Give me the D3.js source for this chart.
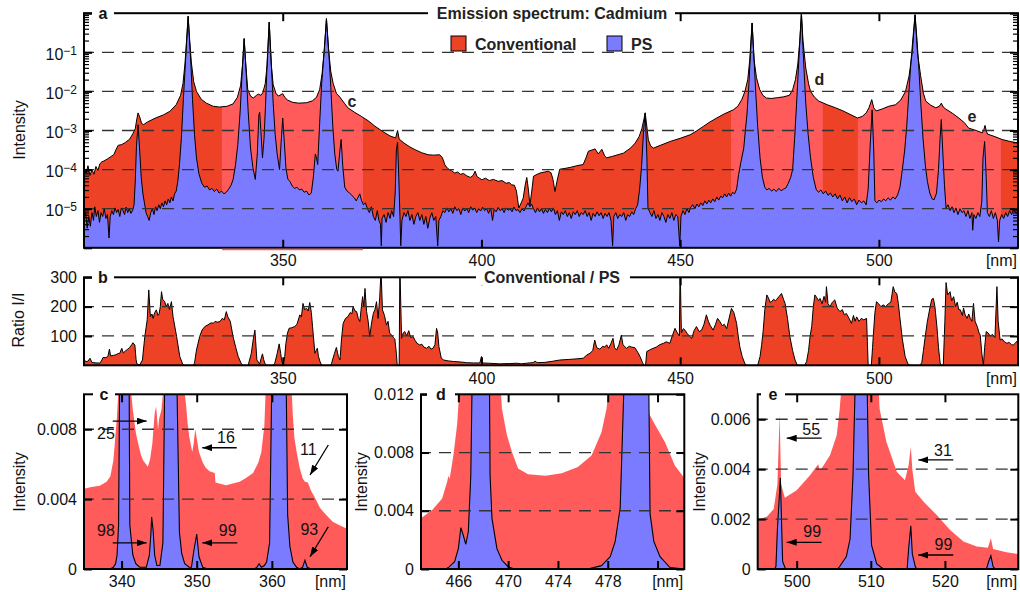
<!DOCTYPE html>
<html><head><meta charset="utf-8">
<script src="https://cdn.jsdelivr.net/npm/d3@7"></script>
<style>
body{margin:0;background:#fff;}
svg{display:block;}
</style></head><body>
<svg id="chart" width="1020" height="592"></svg>
<script>
// ---------------- DATA ----------------
// Panel a: log10(intensity) vs wavelength [nm]
const convSpectrumLog = [[300,-3.95],[300.5,-4.1],[301,-3.9],[301.5,-4.15],[302,-4.0],[302.5,-4.12],[303,-3.92],[303.5,-4.02],[304,-3.85],[304.5,-3.8],[305,-3.78],[306,-3.72],[307,-3.65],[307.5,-3.62],[308,-3.5],[308.6,-3.38],[309.5,-3.36],[310.5,-3.3],[311.5,-3.22],[312.3,-3.08],[312.9,-2.95],[313.3,-2.7],[313.6,-2.55],[314.0,-2.65],[314.5,-2.82],[315,-2.85],[316,-2.78],[318,-2.68],[320,-2.6],[321.6,-2.51],[323.2,-2.34],[324.3,-2.1],[324.9,-1.8],[325.4,-1.3],[325.8,-0.7],[326.2,-0.08],[326.6,-0.7],[327.0,-1.25],[327.6,-1.75],[328.3,-2.0],[329.5,-2.2],[330.8,-2.3],[332.5,-2.38],[334.1,-2.4],[336,-2.38],[337.5,-2.32],[338.6,-2.15],[339.4,-1.85],[339.9,-1.3],[340.3,-0.65],[340.7,-1.3],[341.2,-1.95],[341.9,-2.12],[342.6,-2.17],[343.4,-2.1],[343.9,-2.07],[344.5,-2.1],[345.0,-2.03],[345.6,-1.8],[346.1,-1.3],[346.6,-0.23],[347.1,-1.3],[347.6,-1.83],[348.3,-2.05],[348.9,-2.12],[349.6,-2.08],[350.0,-2.06],[350.5,-2.15],[351.2,-2.22],[352.5,-2.28],[354,-2.3],[356,-2.29],[357.5,-2.24],[358.5,-2.15],[359.3,-1.95],[359.9,-1.55],[360.5,-0.9],[361.0,-0.14],[361.5,-0.9],[362.1,-1.5],[362.7,-1.8],[363.5,-2.05],[364.4,-2.15],[365.5,-2.3],[366.4,-2.42],[368,-2.53],[369.8,-2.64],[371.5,-2.75],[373.2,-2.89],[374.5,-2.98],[375.7,-3.06],[377,-3.14],[378.4,-3.19],[378.9,-3.0],[379.3,-3.22],[380.5,-3.32],[382,-3.42],[383.3,-3.49],[385,-3.57],[386.6,-3.62],[388,-3.63],[389.5,-3.62],[390.2,-3.7],[390.8,-3.88],[391.5,-3.97],[392.5,-4.03],[393.3,-4.09],[394,-4.06],[394.7,-4.12],[395.5,-4.1],[396.3,-4.16],[397.2,-4.2],[397.9,-4.15],[398.4,-4.04],[398.9,-4.18],[399.5,-4.22],[400.1,-4.26],[401,-4.22],[402,-4.28],[403,-4.25],[404.2,-4.3],[405.2,-4.28],[406.2,-4.35],[407,-4.33],[407.6,-4.39],[408.3,-4.4],[408.8,-4.55],[409.4,-4.98],[410.0,-4.85],[410.5,-4.73],[411.0,-4.4],[411.4,-4.2],[411.8,-4.5],[412.2,-4.9],[412.6,-4.6],[413.1,-4.17],[414,-4.12],[415,-4.08],[416,-4.06],[416.8,-4.04],[417.5,-4.08],[418.0,-4.25],[418.5,-4.56],[419.0,-4.3],[419.7,-3.99],[421,-3.97],[422.5,-3.94],[424,-3.9],[425.6,-3.87],[426.3,-3.7],[426.9,-3.53],[427.8,-3.5],[428.6,-3.47],[429.4,-3.6],[430.3,-3.48],[431.0,-3.65],[431.5,-3.7],[433,-3.66],[435.7,-3.58],[437.5,-3.45],[438.7,-3.32],[439.7,-3.15],[440.4,-2.94],[440.9,-2.7],[441.2,-2.55],[441.5,-2.8],[442.0,-3.24],[442.6,-3.4],[443.3,-3.45],[445,-3.38],[447.5,-3.28],[450,-3.2],[452.5,-3.11],[454,-3.02],[455.9,-2.89],[457.5,-2.78],[459.2,-2.68],[461,-2.58],[463.4,-2.47],[464.5,-2.38],[465.5,-2.21],[466.3,-2.0],[467.0,-1.7],[467.5,-1.2],[468.1,-0.25],[468.6,-1.2],[469.2,-1.65],[470.0,-1.95],[470.8,-2.1],[471.7,-2.17],[473,-2.18],[474.5,-2.16],[476,-2.14],[477.5,-2.1],[478.3,-1.96],[479.0,-1.7],[479.6,-1.3],[480.1,-0.7],[480.5,0.0],[480.9,-0.7],[481.6,-1.4],[482.3,-1.8],[482.8,-2.0],[483.8,-2.15],[484.9,-2.25],[487,-2.34],[489.1,-2.42],[491,-2.5],[493,-2.6],[494.6,-2.68],[495.8,-2.64],[496.8,-2.55],[497.5,-2.42],[498.2,-2.21],[498.7,-2.42],[499.3,-2.5],[500.8,-2.45],[502.5,-2.38],[504.2,-2.34],[505.5,-2.22],[506.7,-2.0],[507.6,-1.6],[508.4,-1.0],[509.1,-0.04],[509.7,-1.0],[510.5,-1.6],[511.2,-2.05],[511.8,-2.25],[513,-2.35],[514.3,-2.42],[515.2,-2.38],[515.7,-2.3],[516.2,-2.4],[516.8,-2.45],[518.5,-2.56],[520.1,-2.68],[521.5,-2.8],[522.6,-2.94],[524.5,-3.0],[526.0,-3.06],[526.4,-2.98],[526.7,-2.87],[527.0,-3.0],[527.3,-3.09],[529,-3.15],[531,-3.23],[533,-3.28],[535,-3.32]];

const psSpectrumLog = [[300,-5.3],[300.4,-5.1],[300.8,-5.5],[301.2,-5.2],[301.6,-5.45],[302,-5.1],[302.4,-5.3],[302.7,-4.95],[303.1,-5.2],[303.5,-5.05],[303.9,-5.35],[304.3,-5.1],[304.7,-5.2],[305.1,-5.0],[305.5,-5.25],[305.9,-5.15],[306.3,-5.75],[306.6,-5.2],[307,-5.05],[307.4,-5.15],[307.8,-4.98],[308.2,-5.1],[308.6,-5.02],[309,-5.2],[309.4,-4.98],[309.8,-5.05],[310.2,-5.15],[310.6,-4.96],[311,-5.1],[311.4,-5.0],[311.8,-5.12],[312.2,-5.05],[312.6,-4.9],[312.9,-4.3],[313.2,-3.4],[313.6,-2.85],[314.0,-3.5],[314.4,-4.2],[314.8,-4.6],[315.2,-4.85],[315.6,-5.1],[316.0,-5.2],[316.4,-5.3],[316.8,-5.1],[317.2,-5.0],[317.6,-5.15],[318.0,-4.95],[318.4,-5.05],[318.8,-4.9],[319.2,-5.0],[319.6,-4.85],[320.0,-4.95],[320.4,-4.8],[320.8,-4.9],[321.2,-4.75],[321.6,-4.85],[322.0,-4.7],[322.4,-4.8],[322.8,-4.62],[323.2,-4.55],[323.6,-4.3],[324.0,-3.9],[324.5,-3.2],[325.0,-2.2],[325.5,-1.3],[325.9,-0.6],[326.2,-0.08],[326.5,-0.6],[326.9,-1.3],[327.3,-2.2],[327.8,-3.1],[328.3,-3.7],[328.9,-4.1],[329.6,-4.34],[330.3,-4.45],[331,-4.42],[331.6,-4.52],[332.2,-4.48],[332.8,-4.56],[333.4,-4.5],[334,-4.6],[334.6,-4.55],[335.2,-4.62],[335.8,-4.58],[336.4,-4.5],[337,-4.4],[337.5,-4.26],[338.1,-3.9],[338.7,-3.36],[339.3,-2.5],[339.8,-1.5],[340.3,-0.65],[340.8,-1.5],[341.3,-2.5],[341.9,-3.45],[342.5,-3.95],[343.1,-4.25],[343.6,-3.6],[344.0,-2.6],[344.2,-2.53],[344.5,-3.0],[344.9,-3.7],[345.3,-3.2],[345.7,-2.3],[346.1,-1.2],[346.6,-0.23],[347.1,-1.2],[347.6,-2.3],[348.1,-3.1],[348.6,-3.6],[349.2,-4.0],[349.6,-3.3],[350.0,-2.68],[350.4,-3.3],[350.8,-3.95],[351.3,-4.25],[351.8,-4.3],[352.4,-4.42],[353,-4.48],[353.6,-4.45],[354.2,-4.52],[354.8,-4.5],[355.4,-4.58],[356,-4.55],[356.6,-4.65],[357.2,-4.6],[357.7,-4.2],[358.2,-3.6],[358.5,-3.7],[358.8,-3.87],[359.3,-2.8],[359.8,-1.8],[360.4,-1.0],[361.0,-0.14],[361.6,-1.0],[362.1,-1.9],[362.6,-2.9],[363.1,-3.6],[363.6,-4.0],[363.9,-4.04],[364.3,-3.6],[364.7,-3.23],[365.1,-3.9],[365.6,-4.45],[366.2,-4.55],[366.8,-4.6],[367.4,-4.66],[368,-4.72],[368.5,-4.8],[369,-4.7],[369.4,-4.62],[369.8,-4.78],[370.3,-4.9],[370.8,-4.85],[371.3,-5.0],[371.8,-5.1],[372.3,-4.95],[372.8,-5.2],[373.3,-5.3],[373.8,-5.05],[374.2,-5.3],[374.6,-5.4],[374.8,-5.95],[375.0,-5.25],[375.5,-5.15],[376,-5.35],[376.5,-5.1],[377,-5.25],[377.4,-5.05],[377.9,-5.2],[378.3,-4.6],[378.6,-3.5],[378.9,-3.3],[379.2,-4.2],[379.5,-5.2],[379.7,-5.95],[380,-5.3],[380.5,-5.1],[381,-5.2],[381.5,-5.05],[382,-5.3],[382.5,-5.15],[383,-5.4],[383.5,-5.2],[384,-5.1],[384.5,-5.3],[385,-5.15],[385.5,-5.4],[386,-5.2],[386.5,-5.5],[387,-5.25],[387.5,-5.1],[388,-5.3],[388.5,-5.2],[389,-5.95],[389.3,-5.3],[389.8,-5.2],[390.3,-5.05],[390.8,-5.1],[391.3,-4.98],[391.8,-5.08],[392.3,-5.0],[392.8,-5.12],[393.3,-4.95],[393.8,-5.05],[394.3,-5.0],[394.8,-5.15],[395.3,-4.98],[395.8,-5.06],[396.3,-5.0],[396.8,-5.1],[397.3,-4.95],[397.8,-5.04],[398.3,-4.98],[398.8,-5.1],[399.3,-5.0],[399.8,-5.06],[400.3,-4.96],[400.8,-5.05],[401.3,-5.0],[401.8,-5.12],[402.3,-4.98],[402.8,-5.3],[403.2,-5.02],[403.7,-5.08],[404.2,-4.97],[404.7,-5.05],[405.2,-5.0],[405.7,-5.1],[406.2,-4.98],[406.7,-5.04],[407.2,-5.0],[407.7,-5.08],[408.2,-4.96],[408.7,-5.05],[409.2,-5.02],[409.7,-5.1],[410.2,-5.0],[410.7,-5.06],[411.2,-4.95],[411.7,-4.85],[412.2,-4.95],[412.6,-4.88],[413.1,-5.0],[413.6,-5.1],[414.1,-4.98],[414.6,-5.08],[415.1,-5.0],[415.6,-5.12],[416.1,-5.02],[416.6,-5.1],[417.1,-5.0],[417.6,-5.08],[418.1,-4.98],[418.6,-5.15],[419.1,-5.05],[419.6,-5.3],[420.1,-5.08],[420.6,-5.15],[421.1,-5.05],[421.6,-5.2],[422.1,-5.1],[422.6,-5.25],[423.1,-5.08],[423.6,-5.15],[424.1,-5.05],[424.6,-5.2],[425.1,-5.1],[425.6,-5.15],[426.1,-5.05],[426.6,-5.2],[427.1,-5.1],[427.6,-5.3],[428.1,-5.12],[428.6,-5.2],[429.1,-5.08],[429.6,-5.18],[430.1,-5.1],[430.6,-5.25],[431.1,-5.12],[431.6,-5.2],[432.1,-5.1],[432.6,-5.3],[433.0,-5.95],[433.3,-5.2],[433.8,-5.1],[434.3,-5.25],[434.8,-5.15],[435.3,-5.2],[435.8,-5.1],[436.3,-5.3],[436.8,-5.15],[437.3,-5.2],[437.8,-5.08],[438.3,-5.15],[438.8,-5.0],[439.3,-4.9],[439.8,-4.5],[440.3,-3.9],[440.8,-3.0],[441.2,-2.55],[441.6,-3.6],[441.9,-4.98],[442.4,-5.1],[442.9,-5.2],[443.4,-5.05],[443.9,-5.25],[444.4,-5.15],[444.9,-5.3],[445.4,-5.1],[445.9,-5.2],[446.4,-5.35],[446.9,-5.15],[447.4,-5.25],[447.9,-5.1],[448.4,-5.3],[448.9,-5.15],[449.4,-5.2],[449.9,-5.95],[450.2,-5.2],[450.7,-5.05],[451.2,-5.15],[451.7,-5.0],[452.2,-5.1],[452.7,-4.95],[453.2,-4.9],[453.7,-5.0],[454.2,-4.88],[454.7,-4.95],[455.2,-4.85],[455.7,-4.92],[456.2,-4.8],[456.7,-4.88],[457.2,-4.78],[457.7,-4.85],[458.2,-4.75],[458.7,-4.82],[459.2,-4.7],[459.7,-4.78],[460.2,-4.68],[460.7,-4.72],[461.2,-4.62],[461.7,-4.7],[462.2,-4.6],[462.7,-4.68],[463.2,-4.58],[463.7,-4.62],[464.2,-4.5],[464.7,-4.13],[465.3,-3.8],[466.0,-3.45],[466.4,-3.0],[466.8,-2.6],[467.3,-1.8],[467.7,-1.0],[468.1,-0.25],[468.5,-1.0],[469.0,-2.0],[469.5,-2.9],[470.1,-3.7],[470.7,-4.2],[471.3,-4.45],[471.8,-4.52],[472.4,-4.48],[473,-4.55],[473.6,-4.5],[474.2,-4.56],[474.8,-4.48],[475.4,-4.54],[476,-4.5],[476.6,-4.47],[477.2,-4.35],[477.8,-4.2],[478.3,-4.0],[478.8,-3.2],[479.3,-2.3],[479.8,-1.3],[480.5,0.0],[481.1,-1.3],[481.6,-2.3],[482.2,-3.1],[482.8,-3.7],[483.5,-4.2],[484.2,-4.5],[484.8,-4.58],[485.4,-4.52],[486,-4.62],[486.6,-4.55],[487.2,-4.66],[487.8,-4.6],[488.4,-4.7],[489,-4.62],[489.6,-4.75],[490.2,-4.65],[490.8,-4.8],[491.4,-4.7],[492,-4.85],[492.6,-4.72],[493.2,-4.82],[493.8,-4.75],[494.4,-4.9],[495,-4.78],[495.6,-4.85],[496.2,-4.8],[496.8,-4.9],[497.3,-4.5],[497.8,-3.4],[498.3,-2.47],[498.7,-3.5],[499.0,-4.8],[499.5,-4.85],[500,-4.78],[500.6,-4.82],[501.2,-4.75],[501.7,-4.8],[502.3,-4.72],[502.9,-4.78],[503.5,-4.7],[504.1,-4.75],[504.7,-4.65],[505.3,-4.45],[505.9,-4.0],[506.5,-3.5],[507.0,-2.9],[507.5,-2.1],[508.1,-1.2],[508.6,-0.6],[509.1,-0.04],[509.6,-0.7],[510.1,-1.5],[510.6,-2.4],[511.1,-3.2],[511.7,-3.9],[512.2,-4.3],[512.8,-4.6],[513.4,-4.75],[513.9,-4.77],[514.5,-4.6],[515.0,-4.0],[515.4,-3.2],[515.7,-2.72],[516.1,-3.6],[516.5,-4.4],[516.9,-4.98],[517.4,-4.9],[517.9,-5.05],[518.4,-4.95],[518.9,-5.1],[519.4,-4.98],[519.9,-5.15],[520.4,-5.0],[520.9,-5.1],[521.4,-5.05],[521.9,-5.2],[522.4,-5.05],[522.9,-5.25],[523.4,-5.1],[523.6,-5.55],[523.9,-5.15],[524.4,-5.25],[524.9,-5.1],[525.4,-5.2],[525.9,-4.8],[526.2,-3.7],[526.6,-3.28],[527.0,-4.2],[527.3,-5.1],[527.8,-5.2],[528.3,-5.05],[528.8,-5.25],[529.3,-5.1],[529.8,-5.3],[530.1,-5.85],[530.4,-5.3],[530.9,-5.15],[531.4,-5.25],[531.9,-5.1],[532.4,-5.2],[532.9,-5.05],[533.4,-5.15],[533.9,-5.0],[534.4,-5.1],[535,-5.15]];

// Panel b: ratio Conventional / PS
const ratioSpectrum = [[300,20],[300.5,12],[301,14],[301.5,24],[302,10],[302.5,9],[303,8],[303.5,8],[304,7],[304.5,18],[304.8,27],[305.5,26],[306,30],[306.4,55],[306.7,32],[307.5,34],[308,36],[308.6,40],[309,41],[309.5,58],[309.9,42],[310.5,50],[311,55],[311.5,61],[312,70],[312.3,77],[312.8,69],[313.1,20],[313.3,5],[314,1],[314.7,18],[315.3,98],[315.9,155],[316.3,257],[316.7,166],[317.1,175],[317.4,160],[317.8,180],[318.2,189],[318.6,170],[318.9,175],[319.2,200],[319.5,251],[319.8,225],[320.3,217],[320.7,200],[321.1,211],[321.5,190],[322,217],[322.4,166],[323.3,98],[324.1,30],[324.8,5],[325.2,0],[327.4,0],[327.8,7],[328.3,52],[329.1,98],[329.7,120],[330.4,132],[331.2,138],[332,145],[332.5,143],[333,150],[333.5,147],[334.2,149],[334.8,160],[335.3,155],[335.8,183],[336.2,165],[336.8,150],[337.5,98],[338.2,60],[338.8,30],[339.6,5],[340,0],[341.3,0],[342.1,41],[342.6,90],[343.0,120],[343.3,60],[343.5,18],[344.2,5],[344.6,25],[344.9,39],[345.2,20],[345.5,7],[346,0],[347.6,0],[348,7],[348.6,40],[349.1,73],[349.5,40],[349.7,18],[350.1,0],[350.5,30],[350.8,75],[351.2,110],[351.6,126],[352.2,128],[353,132],[353.6,140],[354.3,172],[354.7,165],[355.1,211],[355.5,190],[356,194],[356.4,185],[356.8,214],[357.2,180],[357.5,132],[358.1,41],[358.4,50],[358.7,58],[359.0,30],[359.4,12],[359.8,0],[362,0],[362.3,7],[363,40],[363.5,61],[364,30],[364.4,18],[364.8,90],[365.2,143],[365.8,160],[366.4,166],[367.0,180],[367.4,175],[367.7,200],[368.2,185],[368.6,183],[369.0,160],[369.4,149],[369.8,200],[370.1,234],[370.4,200],[370.7,262],[371.1,183],[371.5,150],[371.9,98],[372.3,140],[372.8,177],[373.2,190],[373.6,217],[374.0,160],[374.4,230],[374.65,300],[374.8,300],[375.1,189],[375.6,170],[376.1,137],[376.5,150],[376.9,110],[377.4,103],[377.8,95],[378.2,90],[378.6,40],[378.8,0],[379.3,0],[379.45,300],[379.55,300],[379.9,92],[380.3,110],[380.7,115],[381.2,100],[381.7,118],[382.2,95],[382.8,98],[383.3,85],[383.8,75],[384.5,69],[385,72],[385.5,62],[386.2,58],[386.8,65],[387.3,55],[387.8,58],[388.3,70],[388.7,126],[389.0,110],[389.3,64],[389.9,24],[390.5,18],[391.6,15],[393,13],[395,11],[396.2,9],[398,8],[399.6,8],[400,30],[400.3,8],[402,7],[404.6,5],[407,6],[409,7],[410,5],[412,8],[413,9],[413.5,14],[414,9],[416,10],[418,14],[419.7,18],[422,20],[424,22],[425.6,24],[426.5,35],[427.3,41],[428,50],[428.5,86],[429,60],[429.8,55],[430.5,65],[431,62],[431.5,70],[432,58],[432.6,75],[433.1,92],[433.5,60],[434,52],[434.6,70],[435.2,103],[435.6,70],[436.5,58],[437.2,65],[437.8,62],[438.6,60],[439.3,45],[439.9,30],[440.5,10],[440.9,0],[441.3,0],[441.6,47],[442.3,52],[443.2,58],[444,62],[444.8,70],[445.8,75],[446.5,80],[447.4,75],[448.0,100],[448.7,126],[449.3,110],[449.8,100],[449.95,300],[450.05,300],[450.3,110],[450.8,125],[451.2,120],[451.8,108],[452.3,100],[452.9,92],[453.5,118],[454.1,132],[454.8,115],[455.4,120],[456.0,140],[456.6,172],[457.1,150],[457.6,135],[458.3,120],[458.9,140],[459.4,160],[460.0,149],[460.6,135],[461.1,140],[461.7,125],[462.3,160],[462.9,194],[463.5,180],[464.2,143],[464.6,100],[465.0,64],[465.6,30],[466.3,5],[466.8,0],[469.5,0],[470.1,30],[470.5,70],[470.9,120],[471.3,190],[471.8,240],[472.2,230],[472.6,215],[473.0,217],[473.5,225],[474.0,220],[474.3,225],[474.9,235],[475.5,245],[476.0,225],[476.4,211],[477.0,160],[477.6,98],[478.3,50],[478.9,18],[479.5,0],[481.3,0],[481.8,12],[482.3,50],[482.7,100],[483.1,132],[483.5,200],[483.9,240],[484.4,230],[484.8,220],[485.2,228],[485.7,210],[486.2,235],[486.6,215],[486.8,268],[487.2,210],[487.7,200],[488.3,215],[488.9,223],[489.5,195],[490.2,183],[490.8,190],[491.3,172],[491.8,177],[492.5,160],[493.1,143],[493.6,170],[494.0,150],[494.4,165],[495.0,150],[495.6,160],[496.2,155],[496.9,160],[497.1,80],[497.3,0],[498.1,0],[498.4,60],[498.6,103],[499.0,180],[499.4,217],[499.9,210],[500.5,200],[501.1,206],[501.7,200],[502.4,210],[503.0,215],[503.6,268],[504.0,250],[504.5,245],[504.9,210],[505.3,160],[505.9,90],[506.6,30],[507.3,5],[507.8,0],[510.4,0],[510.8,10],[511.2,50],[511.6,92],[512.2,150],[512.9,200],[513.3,225],[513.7,228],[514.1,200],[514.6,132],[515.0,60],[515.4,10],[515.6,0],[516.2,0],[516.6,150],[516.9,282],[517.3,240],[517.9,251],[518.3,220],[518.8,234],[519.3,200],[519.7,215],[520.1,190],[520.5,189],[521.0,170],[521.3,195],[521.7,172],[522.2,160],[522.6,175],[523.0,160],[523.4,150],[523.8,211],[524.2,150],[524.8,130],[525.2,110],[525.5,103],[525.9,40],[526.3,0],[526.6,60],[527.0,115],[527.5,110],[528.0,100],[528.6,105],[529.2,95],[529.7,268],[530.0,150],[530.5,86],[531.0,90],[531.6,80],[532.2,75],[532.8,78],[533.4,70],[533.8,69],[534.3,75],[535,86]];

// Panels c, d, e: linear intensity
const convZoomC = [[335,0.0046],[336,0.0047],[337.1,0.00476],[338,0.0050],[338.5,0.0053],[338.9,0.0062],[339.1,0.0072],[339.4,0.0088],[339.6,0.0105],[340.4,0.22],[341.2,0.0105],[341.5,0.0091],[341.9,0.0078],[342.2,0.0072],[342.6,0.0065],[342.9,0.0062],[343.5,0.00585],[343.8,0.0063],[344.1,0.0072],[344.4,0.0089],[344.6,0.0093],[344.75,0.0085],[344.85,0.0080],[345.0,0.0086],[345.3,0.0091],[345.6,0.0105],[346.6,0.59],[348.3,0.0105],[348.6,0.0093],[348.8,0.0083],[349.0,0.0076],[349.4,0.0067],[349.6,0.0072],[349.8,0.0080],[350.0,0.0075],[350.3,0.0067],[350.8,0.0061],[351.2,0.0058],[351.7,0.0056],[352.4,0.0055],[352.5,0.00495],[353.0,0.0049],[353.9,0.0048],[354.8,0.0049],[355.7,0.0050],[356.5,0.0052],[357.5,0.0055],[358.2,0.0061],[358.6,0.0067],[359.0,0.0082],[359.2,0.0105],[361.0,0.72],[362.6,0.0105],[362.8,0.0087],[363.0,0.0075],[363.3,0.0067],[363.7,0.0058],[364.1,0.0052],[364.4,0.0050],[364.8,0.00495],[365.2,0.0045],[365.7,0.0041],[366.4,0.0035],[367.2,0.0031],[368.1,0.0027],[369,0.0025],[370,0.0023]];
const psZoomC = [[335,0],[338.5,0],[338.9,0.0001],[339.2,0.0003],[339.4,0.0008],[339.6,0.0025],[339.75,0.011],[340.4,0.22],[341.0,0.011],[341.1,0.0025],[341.5,0.0008],[341.9,0.0003],[342.4,0.0001],[343.3,0.0001],[343.7,0.0008],[343.9,0.0020],[344.0,0.00297],[344.2,0.0022],[344.4,0.0008],[344.7,0.0002],[345.1,0.0002],[345.5,0.0015],[345.75,0.011],[346.6,0.59],[347.35,0.011],[347.7,0.0021],[348.0,0.0009],[348.4,0.0003],[349.0,0.0001],[349.3,0.0001],[349.6,0.0010],[350.0,0.0020],[350.3,0.0007],[350.8,0.0001],[351.5,0],[357.7,0],[358.0,0.0001],[358.3,0.0003],[358.6,0.0001],[359.0,0.0002],[359.3,0.0004],[359.7,0.0015],[360.0,0.011],[361.0,0.72],[361.9,0.011],[362.1,0.0031],[362.4,0.0013],[362.8,0.0004],[363.3,0.0001],[363.7,0],[364.1,0.0001],[364.4,0.0005],[364.7,0.0001],[365.2,0],[370,0]];
const convZoomD = [[463,0.00348],[463.9,0.00405],[464.7,0.00485],[465.1,0.0060],[465.2,0.0064],[465.3,0.0062],[465.6,0.0078],[465.9,0.0099],[466.1,0.0125],[468.1,0.56],[469.4,0.0125],[469.5,0.0110],[469.9,0.0092],[470.3,0.00805],[470.8,0.0069],[471.6,0.0065],[473.0,0.0064],[474.3,0.00657],[475.6,0.0070],[476.7,0.0078],[477.5,0.0094],[477.9,0.0110],[478.1,0.0125],[480.5,1.0],[480.9,0.0125],[481.1,0.0110],[481.8,0.0099],[482.6,0.0087],[483.4,0.0071],[484.2,0.0062]];
const psZoomD = [[463,0],[465.0,0],[465.2,0.0001],[465.7,0.0005],[466.0,0.0014],[466.2,0.00284],[466.4,0.0023],[466.6,0.0017],[466.8,0.00256],[467.0,0.0064],[467.1,0.0125],[468.1,0.56],[468.5,0.0125],[468.55,0.0064],[468.7,0.00348],[469.1,0.0014],[469.5,0.0006],[470.0,0.00016],[470.5,0],[476.4,0],[477.5,0.00023],[478.2,0.00085],[478.6,0.0019],[479.0,0.0042],[479.3,0.0125],[480.5,1.0],[481.3,0.0125],[481.4,0.0038],[481.7,0.0019],[482.2,0.00085],[483.0,0.0001],[484.2,0]];
const convZoomE = [[494.7,0.00196],[496.0,0.0021],[496.9,0.0024],[497.4,0.0034],[497.7,0.0062],[497.9,0.0034],[498.4,0.00285],[500.0,0.00316],[501.8,0.00376],[502.9,0.0042],[503.1,0.0040],[503.4,0.00405],[504.5,0.00456],[505.4,0.00536],[505.8,0.0064],[506.1,0.0075],[509.1,0.91],[511.0,0.0075],[511.2,0.0064],[512.1,0.0051],[513.5,0.0039],[514.6,0.00356],[515.1,0.00416],[515.4,0.0049],[515.6,0.0040],[516.0,0.0031],[517.1,0.0027],[518.9,0.00216],[520.7,0.00156],[522.5,0.0011],[524.3,0.0009],[525.8,0.00085],[526.2,0.00123],[526.5,0.0008],[528.3,0.00067],[529.9,0.0006]];
const psZoomE = [[494.7,0],[497.0,0],[497.2,0.0001],[497.4,0.0016],[497.8,0.00365],[498.1,0.0003],[498.5,0],[505.5,0],[505.8,0.0001],[506.7,0.0005],[507.2,0.0012],[507.6,0.00376],[507.9,0.0075],[509.1,0.91],[509.5,0.0075],[509.7,0.0038],[510.1,0.00096],[510.8,0.0002],[511.7,0],[514.9,0],[515.1,0.0008],[515.4,0.00173],[515.6,0.0006],[516.0,0.0001],[516.2,0],[525.6,0],[525.9,0.0003],[526.2,0.00053],[526.5,0.0001],[526.8,0],[529.9,0]];

// zoomed regions highlighted in panel a [nm]
const highlightRanges = [[334.7,370.2],[462.8,485.9],[494.7,530.7]];
const regionLabels = [["c",367.4,0.005],["d",485.0,0.0186],["e",523.4,0.00214]];

// tick values
const wlTicksAB = [350,400,450,500];
const intensityTicksA = [1e-1,1e-2,1e-3,1e-4,1e-5];
const ratioTicks = [100,200,300];
const wlTicksC = [340,350,360], wlTicksD = [466,470,474,478,482], wlLabelsD=[466,470,474,478], wlTicksE = [500,510,520];
const intTicksC = [0,0.004,0.008], intTicksD = [0,0.004,0.008,0.012], intTicksE = [0,0.002,0.004,0.006];

// annotations: label, tail [nm,I], tip [nm,I], text centre [nm,I]
const annotC = [["25",[338.82,0.00847],[343.34,0.00847],[337.93,0.00778]],["16",[355.32,0.00694],[350.74,0.00694],[353.90,0.00752]],["11",[367.51,0.0071],[365.08,0.00538],[364.85,0.00687]],["98",[338.82,0.0015],[343.34,0.0015],[337.93,0.0022]],["99",[355.40,0.0015],[350.74,0.0015],[354.12,0.0022]],["93",[367.51,0.00242],[365.08,0.0007],[364.98,0.00229]]];
const annotE = [["55",[503.37,0.00524],[498.65,0.00524],[501.95,0.00561]],["31",[521.13,0.00437],[516.41,0.00437],[519.74,0.00476]],["99",[503.37,0.00107],[498.65,0.00107],[502.1,0.0015]],["99",[521.13,0.00056],[516.41,0.00056],[519.8,0.00098]]];

// ---------------- DRAWING ----------------
const FONT = '"Liberation Sans", Arial, Helvetica, sans-serif';
const C_DARK = "#EE4226", C_LIGHT = "#FF5B5B", C_BLUE = "#7B7BFF";
const svg = d3.select("#chart").attr("font-family", FONT);
const defs = svg.append("defs");
defs.append("marker").attr("id","arr").attr("viewBox","0 0 10 7").attr("refX",10).attr("refY",3.5)
  .attr("markerWidth",10).attr("markerHeight",7).attr("markerUnits","userSpaceOnUse").attr("orient","auto")
  .append("path").attr("d","M0,0L10,3.5L0,7Z").attr("fill","#000");

const FA = {x0:84, x1:1018, y0:13.2, y1:247.8};
const FB = {x0:84, x1:1018, y0:277.3, y1:365.3};
const FC = {x0:84, x1:347, y0:394.3, y1:569};
const FD = {x0:421, x1:684.3, y0:394.3, y1:569};
const FE = {x0:757.7, x1:1018.3, y0:394.3, y1:569};

const xA = d3.scaleLinear().domain([300,535]).range([FA.x0,FA.x1]);
const yA = d3.scaleLog().domain([1e-6,1]).range([FA.y1,FA.y0]);
const yB = d3.scaleLinear().domain([0,300]).range([FB.y1,FB.y0]);
const xC = d3.scaleLinear().domain([335,370]).range([FC.x0,FC.x1]);
const yC = d3.scaleLinear().domain([0,0.01]).range([FC.y1,FC.y0]);
const xD = d3.scaleLinear().domain([463,484.15]).range([FD.x0,FD.x1]);
const yD = d3.scaleLinear().domain([0,0.012]).range([FD.y1,FD.y0]);
const xE = d3.scaleLinear().domain([494.74,529.9]).range([FE.x0,FE.x1]);
const yE = d3.scaleLinear().domain([0,0.007]).range([FE.y1,FE.y0]);

function clipFor(id,f){
  defs.append("clipPath").attr("id",id).append("rect").attr("x",f.x0).attr("y",f.y0).attr("width",f.x1-f.x0).attr("height",f.y1-f.y0);
  return `url(#${id})`;
}
function grid(g,y,vals,f){
  g.append("g").selectAll("line").data(vals).join("line")
   .attr("x1",f.x0).attr("x2",f.x1).attr("y1",d=>y(d)).attr("y2",d=>y(d))
   .attr("stroke","#333").attr("stroke-width",1.3).attr("stroke-dasharray","12,8").attr("stroke-dashoffset",2);
}
function tickMarks(g,x,y,f,xt,yt,ytMinor){
  const mk=(axis,tx,ty,vals,size,sw)=>{
    const a=g.append("g").attr("transform",`translate(${tx},${ty})`)
      .call(axis.tickValues(vals).tickSize(size).tickSizeOuter(0).tickFormat(""));
    a.select(".domain").remove();
    a.selectAll("line").attr("stroke","#000").attr("stroke-width",sw);
  };
  mk(d3.axisBottom(x),0,f.y1,xt,-8,2);
  mk(d3.axisTop(x),0,f.y0,xt,-8,2);
  mk(d3.axisLeft(y),f.x0,0,yt,-8,2);
  mk(d3.axisRight(y),f.x1,0,yt,-8,2);
  if(ytMinor){ mk(d3.axisLeft(y),f.x0,0,ytMinor,-5,1.2); mk(d3.axisRight(y),f.x1,0,ytMinor,-5,1.2); }
  g.append("rect").attr("x",f.x0).attr("y",f.y0).attr("width",f.x1-f.x0).attr("height",f.y1-f.y0)
   .attr("fill","none").attr("stroke","#000").attr("stroke-width",2);
}
function xLabels(g,x,f,vals){
  const a=g.append("g").attr("transform",`translate(0,${f.y1})`)
    .call(d3.axisBottom(x).tickValues(vals).tickSize(0).tickPadding(7));
  a.select(".domain").remove();
  a.attr("font-size",16).attr("font-family",FONT);
  a.selectAll("text").attr("fill","#111");
  g.append("text").attr("x",f.x1-1).attr("y",f.y1+18.4).attr("text-anchor","end")
   .attr("font-size",16).attr("fill","#111").text("[nm]");
}
function yLabels(g,y,f,vals,fmt){
  const a=g.append("g").attr("transform",`translate(${f.x0},0)`)
    .call(d3.axisLeft(y).tickValues(vals).tickSize(0).tickPadding(7).tickFormat(fmt));
  a.select(".domain").remove();
  a.attr("font-size",16).attr("font-family",FONT);
  a.selectAll("text").attr("fill","#111");
  return a;
}
function panelLabel(g,f,txt,x0,x1){
  g.append("rect").attr("x",x0).attr("y",f.y0-7).attr("width",x1-x0).attr("height",14).attr("fill","#fff");
  g.append("text").attr("x",(x0+x1)/2).attr("y",f.y0+5.5).attr("text-anchor","middle")
   .attr("font-size",16).attr("font-weight","bold").attr("fill","#111").text(txt);
}
function axisTitle(g,x,y,txt){
  g.append("text").attr("transform",`translate(${x},${y}) rotate(-90)`).attr("text-anchor","middle")
   .attr("font-size",16).attr("fill","#111").text(txt);
}

// ---------- Panel a ----------
const gA = svg.append("g");
const clipA = clipFor("clipA",FA);
const areaA = d3.area().x(d=>xA(d[0])).y0(FA.y1).y1(d=>yA(10**d[1]));
const lineA = d3.line().x(d=>xA(d[0])).y(d=>yA(10**d[1]));
const pA = gA.append("g").attr("clip-path",clipA);
pA.append("path").datum(convSpectrumLog).attr("d",areaA).attr("fill",C_DARK);
highlightRanges.forEach((r,i)=>{
  defs.append("clipPath").attr("id","hl"+i).append("rect")
    .attr("x",xA(r[0])).attr("y",FA.y0).attr("width",xA(r[1])-xA(r[0])).attr("height",FA.y1-FA.y0);
  pA.append("path").datum(convSpectrumLog).attr("d",areaA).attr("fill",C_LIGHT).attr("clip-path",`url(#hl${i})`);
});
pA.append("path").datum(psSpectrumLog).attr("d",areaA).attr("fill",C_BLUE);
pA.append("path").datum(convSpectrumLog).attr("d",lineA).attr("fill","none").attr("stroke","#000").attr("stroke-width",1);
pA.append("path").datum(psSpectrumLog).attr("d",lineA).attr("fill","none").attr("stroke","#000").attr("stroke-width",1);
grid(gA,yA,intensityTicksA,FA);
const minorA=[]; for(let e=-6;e<0;e++){ for(let k=2;k<10;k++) minorA.push(k*10**e); }
tickMarks(gA,xA,yA,FA,wlTicksAB,[1e-6,1e-5,1e-4,1e-3,1e-2,1e-1,1],minorA);
gA.append("line").attr("x1",xA(highlightRanges[0][0])).attr("x2",xA(highlightRanges[0][1])).attr("y1",FA.y1+1.8).attr("y2",FA.y1+1.8).attr("stroke",C_LIGHT).attr("stroke-width",1.5);
xLabels(gA,xA,FA,wlTicksAB);
const yla = yLabels(gA,yA,FA,intensityTicksA,d=>d);
yla.selectAll("text").each(function(d){
  const t=d3.select(this); const e=Math.round(Math.log10(d));
  t.text(null).attr("dy",null).attr("y",7);
  t.append("tspan").text("10");
  t.append("tspan").attr("dy",-5).attr("font-size",12).text("\u2212"+(-e));
});
axisTitle(gA,25,130,"Intensity");
panelLabel(gA,FA,"a",92,114);
gA.append("rect").attr("x",428).attr("y",FA.y0-8).attr("width",247).attr("height",16).attr("fill","#fff");
gA.append("text").attr("x",552).attr("y",18.5).attr("text-anchor","middle").attr("font-size",16).attr("font-weight","bold").attr("fill","#222").text("Emission spectrum: Cadmium");
// legend
const legend=[["Conventional",C_DARK,451],["PS",C_BLUE,607]];
legend.forEach(([name,col,lx])=>{
  gA.append("rect").attr("x",lx).attr("y",36).attr("width",15).attr("height",15).attr("fill",col).attr("stroke","#000").attr("stroke-width",1);
  gA.append("text").attr("x",lx+24).attr("y",50).attr("font-size",16).attr("font-weight","bold").attr("fill","#222").text(name);
});
regionLabels.forEach(([t,nm,v])=>{
  gA.append("text").attr("x",xA(nm)).attr("y",yA(v)+4).attr("text-anchor","middle").attr("font-size",16).attr("font-weight","bold").attr("fill","#222").text(t);
});

// ---------- Panel b ----------
const gB = svg.append("g");
const clipB = clipFor("clipB",FB);
const areaB = d3.area().x(d=>xA(d[0])).y0(FB.y1).y1(d=>yB(d[1]));
const lineB = d3.line().x(d=>xA(d[0])).y(d=>yB(d[1]));
const pB = gB.append("g").attr("clip-path",clipB);
pB.append("path").datum(ratioSpectrum).attr("d",areaB).attr("fill",C_DARK);
pB.append("path").datum(ratioSpectrum).attr("d",lineB).attr("fill","none").attr("stroke","#000").attr("stroke-width",1);
grid(gB,yB,[100,200],FB);
tickMarks(gB,xA,yB,FB,wlTicksAB,ratioTicks,null);
xLabels(gB,xA,FB,wlTicksAB);
yLabels(gB,yB,FB,ratioTicks,d3.format("d"));
axisTitle(gB,24,320,"Ratio I/I");
panelLabel(gB,FB,"b",92,114);
gB.append("rect").attr("x",476).attr("y",FB.y0-8).attr("width",154).attr("height",16).attr("fill","#fff");
gB.append("text").attr("x",552).attr("y",283.3).attr("text-anchor","middle").attr("font-size",16).attr("font-weight","bold").attr("fill","#222").text("Conventional / PS");

// ---------- Panels c, d, e ----------
function zoomPanel(id,f,x,y,conv,ps,xt,xl,yt,grids,lab,labX0,labX1,titleX,annots){
  const g=svg.append("g");
  const cp=clipFor(id,f);
  const area=d3.area().x(d=>x(d[0])).y0(f.y1).y1(d=>y(d[1]));
  const line=d3.line().x(d=>x(d[0])).y(d=>y(d[1]));
  const p=g.append("g").attr("clip-path",cp);
  p.append("path").datum(conv).attr("d",area).attr("fill",C_LIGHT);
  p.append("path").datum(ps).attr("d",area).attr("fill",C_BLUE);
  p.append("path").datum(ps).attr("d",line).attr("fill","none").attr("stroke","#000").attr("stroke-width",1.1);
  grid(g,y,grids,f);
  tickMarks(g,x,y,f,xt,yt,null);
  xLabels(g,x,f,xl);
  yLabels(g,y,f,yt,d=>d===0?"0":d3.format(".3f")(d));
  axisTitle(g,titleX,482,"Intensity");
  panelLabel(g,f,lab,labX0,labX1);
  annots.forEach(([t,tail,tip,tc])=>{
    g.append("line").attr("x1",x(tail[0])).attr("y1",y(tail[1])).attr("x2",x(tip[0])).attr("y2",y(tip[1]))
     .attr("stroke","#000").attr("stroke-width",1.3).attr("marker-end","url(#arr)");
    g.append("text").attr("x",x(tc[0])).attr("y",y(tc[1])+5.7).attr("text-anchor","middle")
     .attr("font-size",16).attr("fill","#111").text(t);
  });
}
zoomPanel("clipC",FC,xC,yC,convZoomC,psZoomC,wlTicksC,wlTicksC,intTicksC,[0.004,0.008],"c",93,115,25,annotC);
zoomPanel("clipD",FD,xD,yD,convZoomD,psZoomD,wlTicksD,wlLabelsD,intTicksD,[0.004,0.008],"d",427,455,367,[]);
zoomPanel("clipE",FE,xE,yE,convZoomE,psZoomE,wlTicksE,wlTicksE,intTicksE,[0.002,0.004,0.006],"e",761,785,705,annotE);
</script>
</body></html>
